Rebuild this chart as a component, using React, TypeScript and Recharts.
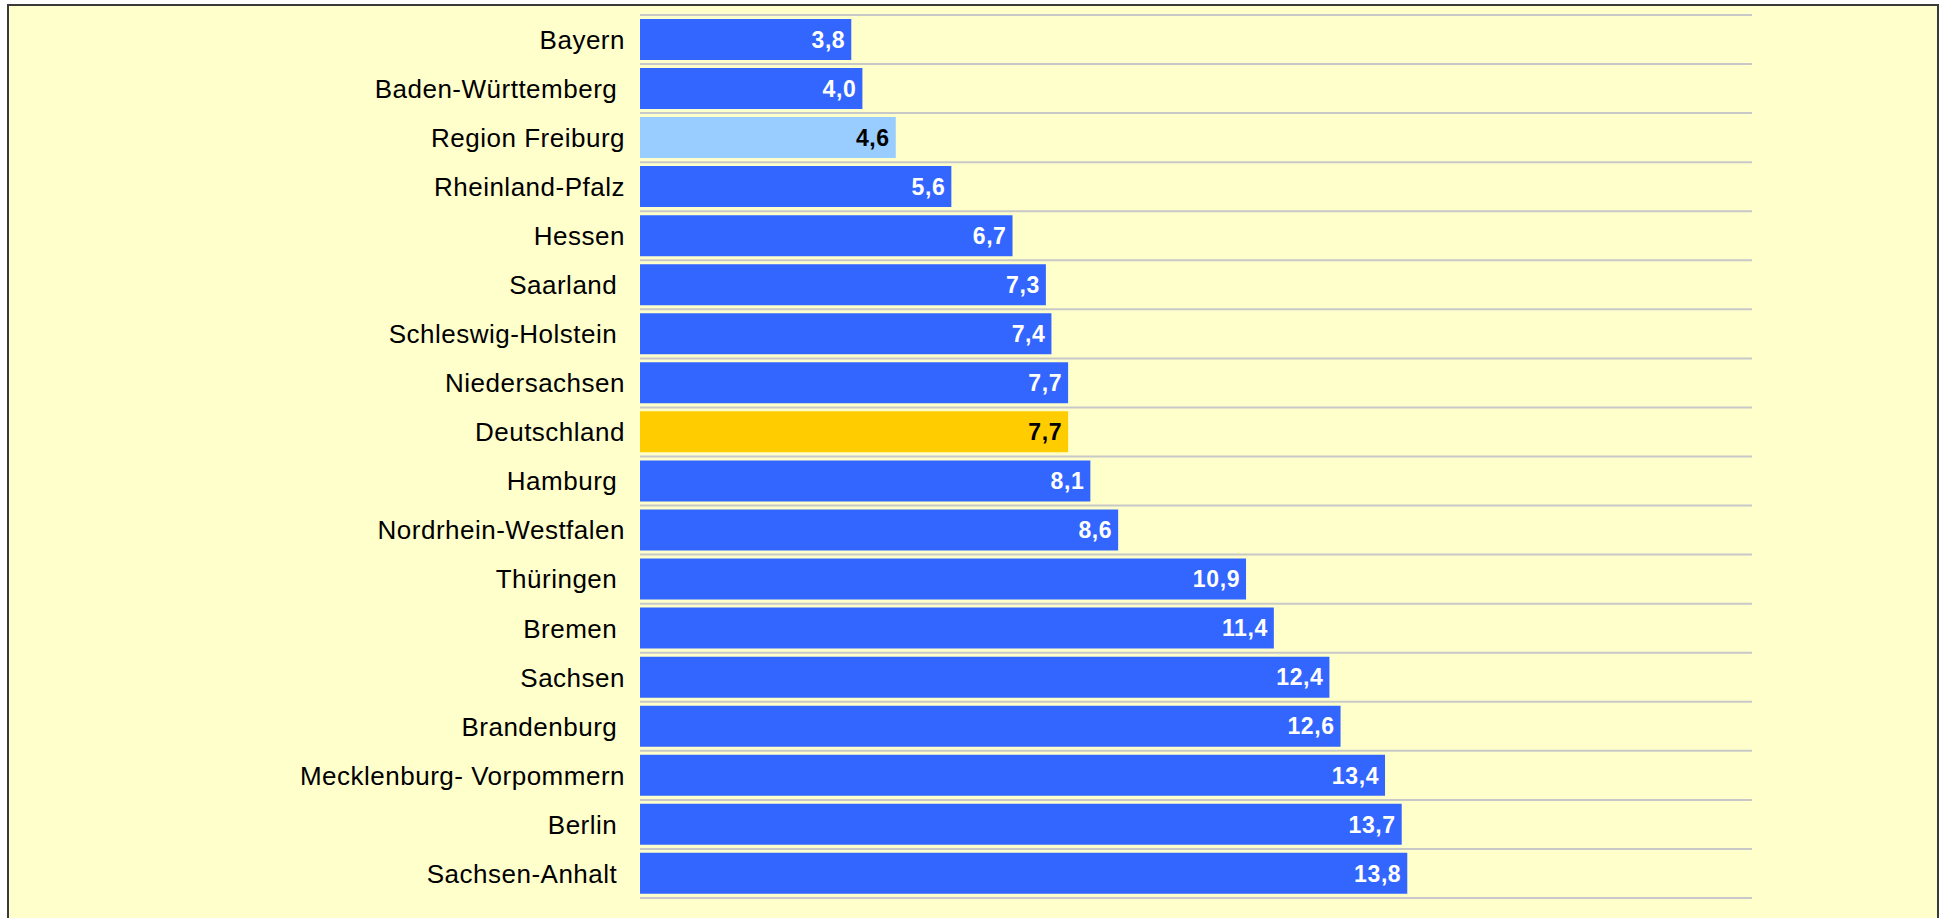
import { BarChart, Bar, XAxis, YAxis, CartesianGrid, Cell, LabelList } from 'recharts'

const regions = [
  'Bayern',
  'Baden-Württemberg ',
  'Region Freiburg',
  'Rheinland-Pfalz',
  'Hessen',
  'Saarland ',
  'Schleswig-Holstein ',
  'Niedersachsen',
  'Deutschland',
  'Hamburg ',
  'Nordrhein-Westfalen',
  'Thüringen ',
  'Bremen ',
  'Sachsen',
  'Brandenburg ',
  'Mecklenburg- Vorpommern',
  'Berlin ',
  'Sachsen-Anhalt ',
]

const rates = [3.8, 4.0, 4.6, 5.6, 6.7, 7.3, 7.4, 7.7, 7.7, 8.1, 8.6, 10.9, 11.4, 12.4, 12.6, 13.4, 13.7, 13.8]

const data = regions.map((name, i) => ({ name, value: rates[i] }))

const BLUE = '#3366ff'
const highlight: Record<string, string> = {
  'Region Freiburg': '#99ccff',
  Deutschland: '#ffcc00',
}

const FONT = '"Liberation Sans", Arial, Helvetica, sans-serif'

const RegionTick = (props: any) => {
  const { x, y, payload } = props
  return (
    <text
      x={x}
      y={y}
      dy="0.36em"
      textAnchor="end"
      fill="#000"
      fontFamily={FONT}
      fontSize={26}
      letterSpacing={0.5}
      style={{ whiteSpace: 'pre' }}
      xmlSpace="preserve"
    >
      {payload.value}
    </text>
  )
}

const ValueLabel = (props: any) => {
  const { x, y, width, height, value, index } = props
  const dark = highlight[regions[index]] !== undefined
  return (
    <text
      x={x + width - 6}
      y={y + height / 2}
      dy="0.36em"
      textAnchor="end"
      fill={dark ? '#000' : '#fff'}
      fontFamily={FONT}
      fontWeight="bold"
      fontSize={23}
      letterSpacing={0.6}
    >
      {Number(value).toFixed(1).replace('.', ',')}
    </text>
  )
}

export default function App() {
  return (
    <div style={{ position: 'absolute', left: 0, top: 0, width: 1941, height: 918, overflow: 'hidden', background: '#fff' }}>
      <div
        style={{
          position: 'absolute',
          left: 7,
          top: 4,
          width: 1932,
          height: 1000,
          boxSizing: 'border-box',
          border: '2px solid #3a3a3a',
          background: '#ffffcc',
        }}
      />
      <div style={{ position: 'absolute', left: 0, top: 0 }}>
        <BarChart
          width={1941}
          height={918}
          data={data}
          layout="vertical"
          margin={{ top: 15, right: 189, bottom: 20, left: 0 }}
          barCategoryGap="8%"
        >
          <CartesianGrid
            vertical={false}
            stroke="#c8c8c8"
            strokeWidth={2}
            horizontalCoordinatesGenerator={({ offset }: any) =>
              Array.from({ length: regions.length + 1 }, (_, i) => offset.top + (i * offset.height) / regions.length)
            }
          />
          <XAxis type="number" domain={[0, 20]} hide />
          <YAxis
            type="category"
            dataKey="name"
            width={640}
            axisLine={false}
            tickLine={false}
            tickSize={0}
            tickMargin={15}
            interval={0}
            tick={<RegionTick />}
          />
          <Bar dataKey="value" fill={BLUE} isAnimationActive={false}>
            {data.map((d) => (
              <Cell key={d.name} fill={highlight[d.name] ?? BLUE} />
            ))}
            <LabelList dataKey="value" content={<ValueLabel />} />
          </Bar>
        </BarChart>
      </div>
    </div>
  )
}
